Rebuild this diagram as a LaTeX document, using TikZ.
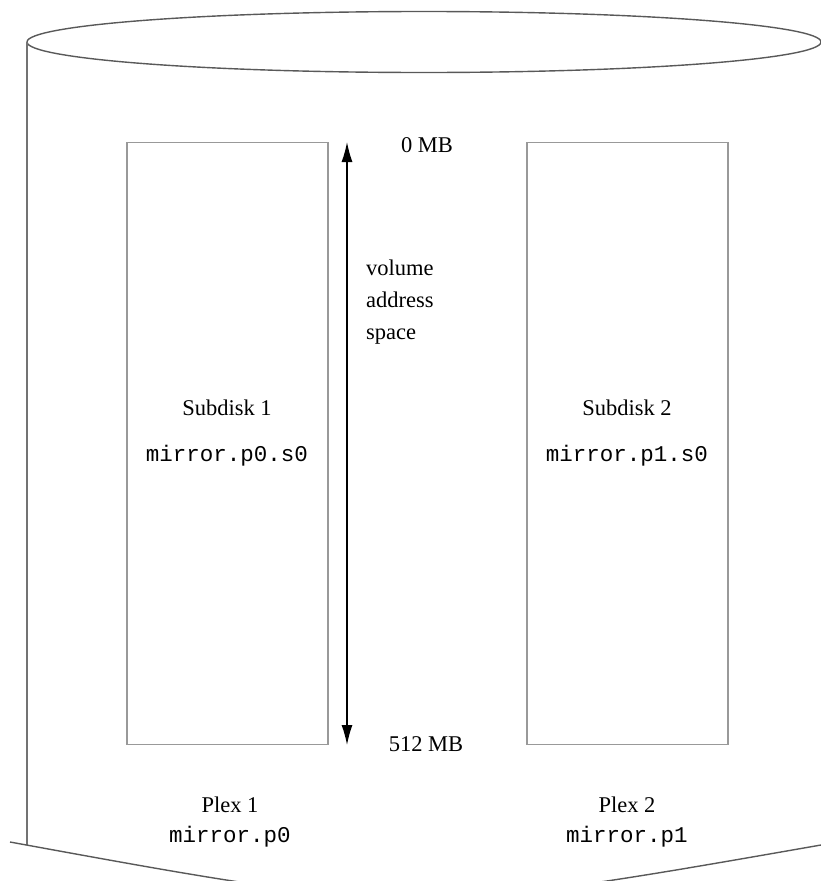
\documentclass[tikz,border=0pt]{standalone}
\usepackage{fontspec}
\setmainfont{Liberation Serif}
\setmonofont{Liberation Mono}
\usetikzlibrary{arrows.meta}
\tikzset{>=stealth}
\tikzset{diskbox/.style={draw=black!40, line width=1.6pt, minimum width=201pt, minimum height=602pt, inner sep=0pt}}
\tikzset{lbl/.style={font=\fontsize{22.5}{27}\selectfont, inner sep=0pt}}
\tikzset{code/.style={font=\fontsize{22.5}{27}\selectfont\ttfamily, inner sep=0pt}}

\begin{document}
\begin{tikzpicture}[x=1pt,y=-1pt]
      \useasboundingbox (0,0) rectangle (821,881);
      \clip (0,0) rectangle (821,881);
      % cylinder
      \draw[black!65, line width=1.4pt] (424,42) ellipse [x radius=397, y radius=30.5];
      \draw[black!55, line width=1.3pt] (27,42) -- (27,845);
      \draw[black!65, line width=1.4pt] (10,842) .. controls (415,916) .. (821,845);
      % subdisks
      \node[diskbox] (sd1) at (227.5,443.5) {};
      \node[diskbox] (sd2) at (627.5,443.5) {};
      \node[lbl, anchor=base] (sd1name) at (227,415) {Subdisk 1};
      \node[code, anchor=base] (sd1obj) at (227,461) {mirror.p0.s0};
      \node[lbl, anchor=base] (sd2name) at (627,415) {Subdisk 2};
      \node[code, anchor=base] (sd2obj) at (627,461) {mirror.p1.s0};
      % address space
      \coordinate (top) at (347,142);
      \coordinate (bot) at (347,745);
      \draw[{Latex[length=20pt,width=11pt]}-{Latex[length=20pt,width=11pt]}, line width=1.3pt] (bot) -- (top);
      \node[lbl, anchor=base] (zero) at (427,152) {0 MB};
      \node[lbl, anchor=base] (end) at (426,751) {512 MB};
      \node[lbl, anchor=base west] (vol) at (366,275) {volume};
      \node[lbl, anchor=base west] (addr) at (366,307) {address};
      \node[lbl, anchor=base west] (spc) at (366,339) {space};
      % plexes
      \node[lbl, anchor=base] (px1name) at (230,812) {Plex 1};
      \node[code, anchor=base] (px1obj) at (230,842) {mirror.p0};
      \node[lbl, anchor=base] (px2name) at (627,812) {Plex 2};
      \node[code, anchor=base] (px2obj) at (627,842) {mirror.p1};
\end{tikzpicture}
\end{document}
